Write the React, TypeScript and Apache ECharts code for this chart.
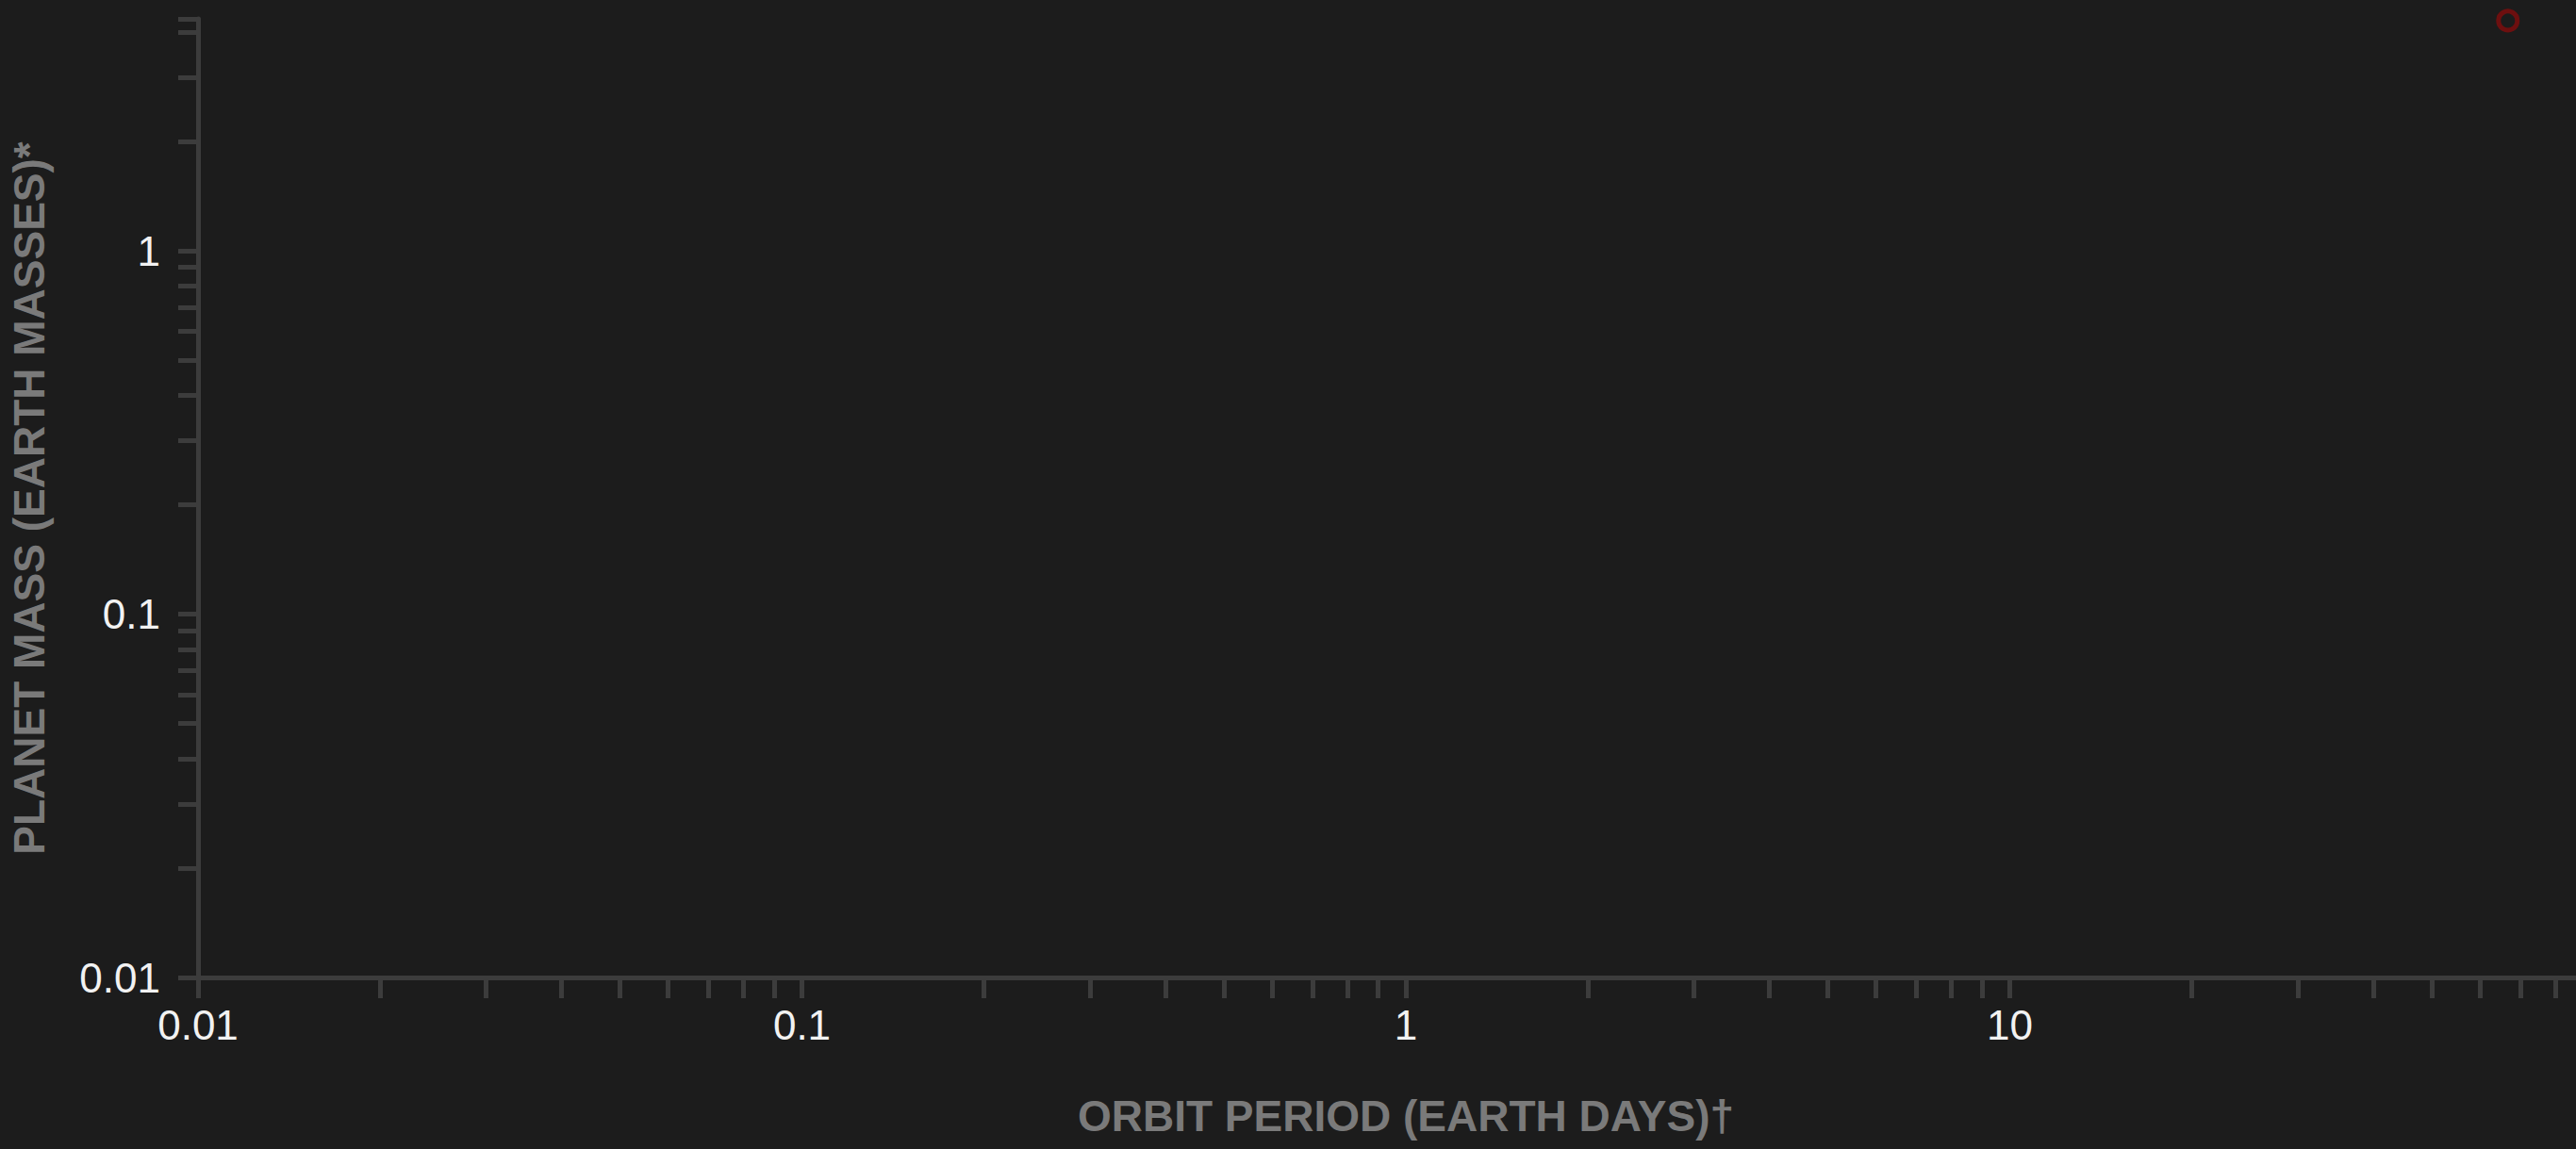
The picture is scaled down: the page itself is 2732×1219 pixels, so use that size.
import React, { useEffect, useRef } from "react";
import * as echarts from "echarts";

// ---- data ----
const X_RANGE = [0.01, 100];
const Y_RANGE = [0.01, 4.35];
const X_TICK_VALUES = [
  0.01, 0.02, 0.03, 0.04, 0.05, 0.06, 0.07, 0.08, 0.09,
  0.1, 0.2, 0.3, 0.4, 0.5, 0.6, 0.7, 0.8, 0.9,
  1, 2, 3, 4, 5, 6, 7, 8, 9,
  10, 20, 30, 40, 50, 60, 70, 80, 90, 100,
];
const Y_TICK_VALUES = [
  0.01, 0.02, 0.03, 0.04, 0.05, 0.06, 0.07, 0.08, 0.09,
  0.1, 0.2, 0.3, 0.4, 0.5, 0.6, 0.7, 0.8, 0.9,
  1, 2, 3, 4, 4.35,
];
const PLANET_PERIOD = [66.8];
const PLANET_MASS = [4.3];
const X_TITLE = "ORBIT PERIOD (EARTH DAYS)†";
const Y_TITLE = "PLANET MASS (EARTH MASSES)*";

const BG = "#1c1c1c";
const AXIS_COLOR = "#3c3c3c";
const LABEL_COLOR = "#f2f2f2";
const TITLE_COLOR = "#7a7a7a";
const FONT = "'Liberation Sans', Arial, Helvetica, sans-serif";

const CHART_W = 2850;
const CHART_H = 1219;

export default function App() {
  const ref = useRef<HTMLDivElement>(null);

  useEffect(() => {
    document.body.style.margin = "0";
    document.body.style.background = BG;
    document.documentElement.style.overflow = "hidden";
    document.body.style.overflow = "hidden";
    if (!ref.current) return;
    const chart = echarts.init(ref.current, null, { renderer: "svg" });

    const labelStyle = {
      color: LABEL_COLOR,
      fontSize: 44,
      fontFamily: FONT,
    };
    const titleStyle = {
      color: TITLE_COLOR,
      fontSize: 46,
      fontWeight: "bold" as const,
      fontFamily: FONT,
    };

    chart.setOption({
      animation: false,
      backgroundColor: BG,
      grid: {
        left: 210,
        top: 20,
        right: CHART_W - 2772,
        bottom: CHART_H - 1037,
        containLabel: false,
        outerBoundsMode: "none",
      },
      xAxis: [
        {
          type: "log",
          logBase: 10,
          min: X_RANGE[0],
          max: X_RANGE[1],
          position: "bottom",
          name: X_TITLE,
          nameLocation: "middle",
          nameGap: 124,
          nameTextStyle: titleStyle,
          axisLine: { show: true, onZero: false, lineStyle: { color: AXIS_COLOR, width: 5 } },
          axisTick: { show: false },
          axisLabel: { ...labelStyle, margin: 28, showMaxLabel: false, showMinLabel: true },
          splitLine: { show: false },
          minorTick: { show: false },
          minorSplitLine: { show: false },
        },
        {
          type: "value",
          min: Math.log10(X_RANGE[0]),
          max: Math.log10(X_RANGE[1]),
          position: "bottom",
          axisLine: { show: false, onZero: false },
          axisTick: {
            show: true,
            length: 22,
            customValues: X_TICK_VALUES.map((v) => Math.log10(v)),
            lineStyle: { color: AXIS_COLOR, width: 5 },
          },
          axisLabel: { show: false },
          splitLine: { show: false },
        },
      ],
      yAxis: [
        {
          type: "log",
          logBase: 10,
          min: Y_RANGE[0],
          max: Y_RANGE[1],
          position: "left",
          name: Y_TITLE,
          nameLocation: "middle",
          nameGap: 156,
          nameTextStyle: titleStyle,
          axisLine: { show: true, onZero: false, lineStyle: { color: AXIS_COLOR, width: 5 } },
          axisTick: { show: false },
          axisLabel: { ...labelStyle, margin: 40, showMaxLabel: false, showMinLabel: true },
          splitLine: { show: false },
          minorTick: { show: false },
          minorSplitLine: { show: false },
        },
        {
          type: "value",
          min: Math.log10(Y_RANGE[0]),
          max: Math.log10(Y_RANGE[1]),
          position: "left",
          axisLine: { show: false, onZero: false },
          axisTick: {
            show: true,
            length: 21,
            customValues: Y_TICK_VALUES.map((v) => Math.log10(v)),
            lineStyle: { color: AXIS_COLOR, width: 5 },
          },
          axisLabel: { show: false },
          splitLine: { show: false },
        },
      ],
      series: [
        {
          type: "scatter",
          xAxisIndex: 0,
          yAxisIndex: 0,
          clip: false,
          symbol: "circle",
          symbolSize: 20,
          itemStyle: {
            color: "transparent",
            borderColor: "#820c0c",
            borderWidth: 5,
          },
          data: PLANET_PERIOD.map((p, i) => [p, PLANET_MASS[i]]),
        },
      ],
    });

    return () => {
      chart.dispose();
    };
  }, []);

  return (
    <div
      ref={ref}
      style={{
        position: "fixed",
        left: 0,
        top: 0,
        width: CHART_W,
        height: CHART_H,
      }}
    />
  );
}
